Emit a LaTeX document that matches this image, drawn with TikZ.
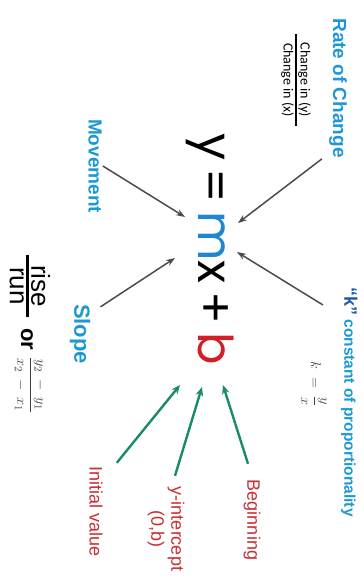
\documentclass[tikz,border=0pt]{standalone}
\usepackage{amsmath}
\usepackage{fontspec}
\setmainfont{Liberation Sans}
\newfontfamily\eqfont{Poppins}
\newfontfamily\notefont{Carlito}
\usetikzlibrary{arrows.meta}
\definecolor{labelblue}{RGB}{28,152,212}
\definecolor{kblue}{RGB}{30,90,165}
\definecolor{mblue}{RGB}{30,135,205}
\definecolor{labred}{RGB}{200,45,50}
\definecolor{bred}{RGB}{210,30,40}
\definecolor{arrowgray}{RGB}{75,75,75}
\definecolor{arrowgreen}{RGB}{25,140,100}

\begin{document}
\begin{tikzpicture}[
  x=1pt,y=1pt,>=Stealth,
  lbl/.style={rotate=-90,inner sep=1pt},
  bluelbl/.style={lbl,text=labelblue,font=\bfseries\fontsize{19}{19}\selectfont},
  redlbl/.style={lbl,text=labred,font=\fontsize{18}{20}\selectfont,align=center},
  garr/.style={-{Stealth[length=9pt,width=6.5pt]},draw=arrowgray,line width=1.5pt},
  grarr/.style={-{Stealth[length=9pt,width=7.5pt]},draw=arrowgreen,line width=2.4pt}
]
\useasboundingbox (0,0) rectangle (364,-582);
% ---------- equation (centre)
\node[lbl,inner sep=0pt,anchor=base west] (eq) at (198,-133)
  {\eqfont\fontsize{48}{48}\selectfont\spaceskip=0.17em y = {\color{mblue}m}x + {\color{bred}b}};
\coordinate (tipRoc)   at (238,-223);
\coordinate (tipMov)   at (185,-217);
\coordinate (tipSlope) at (175,-258);
\coordinate (tipK)     at (237,-252);
\coordinate (tipInit)  at (180,-385);
\coordinate (tipInt)   at (202,-387);
\coordinate (tipBeg)   at (223,-385);
% ---------- labels for m
\node[bluelbl] (roc) at (338,-88) {Rate of Change};
\node[lbl] (chg) at (296,-80)
  {\notefont\fontsize{14}{14}\selectfont
   $\genfrac{}{}{1.5pt}{}{\makebox[92pt]{\notefont Change in (y)}}{\makebox[92pt]{\notefont Change in (x)}}$};
\node[bluelbl] (mov) at (95,-166) {Movement};
\node[bluelbl,font=\bfseries\fontsize{22}{22}\selectfont] (slope) at (80,-334) {Slope};
\node[lbl,font=\fontsize{26}{26}\selectfont] (rr) at (30,-286)
  {$\genfrac{}{}{2.4pt}{}{\makebox[62pt]{rise}}{\makebox[62pt]{run}}$};
\node[lbl,font=\bfseries\fontsize{22}{22}\selectfont] (or) at (27,-339) {or};
\node[lbl,font=\fontsize{15}{15}\selectfont,text=black!75] (pts) at (30,-385)
  {$\dfrac{y_2\;-\;y_1}{x_2\;-\;x_1}$};
\node[lbl,anchor=south west,font=\bfseries\fontsize{15.5}{16}\selectfont,text=labelblue] (kq) at (340,-286)
  {{\color{kblue}\fontsize{18}{18}\selectfont``k''} constant of proportionality};
\node[lbl,font=\fontsize{14}{14}\selectfont,text=black!75] (kform) at (314,-384)
  {$k\;=\;\dfrac{y}{x}$};
% ---------- labels for b
\node[redlbl] (init) at (96,-512) {Initial value};
\node[redlbl] (yint) at (166,-529) {y-intercept\\(0,b)};
\node[redlbl] (beg)  at (252,-520) {Beginning};
% ---------- arrows
\draw[garr] ([xshift=-6]roc.south east) -- (tipRoc);
\draw[garr] (mov.north) -- (tipMov);
\draw[garr] ([shift={(9,-4)}]slope.north west) -- (tipSlope);
\draw[garr] ([shift={(-17,-19)}]kq.south west) -- (tipK);
\draw[grarr] ([shift={(13,3)}]init.north west) -- (tipInit);
\draw[grarr] ([shift={(9,10)}]yint.west) -- (tipInt);
\draw[grarr] ([shift={(-4,15)}]beg.west) -- (tipBeg);
\end{tikzpicture}
\end{document}
